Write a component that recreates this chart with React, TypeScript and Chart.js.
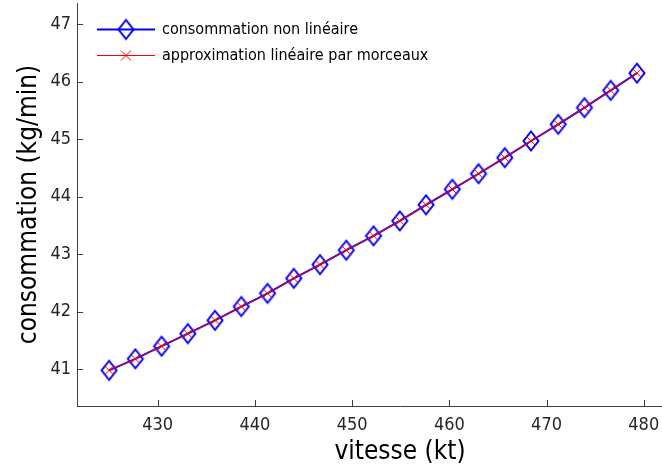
import React, { useEffect, useRef } from "react";
import { Chart, registerables } from "chart.js";

Chart.register(...registerables);

const vitesse = [425, 427.7, 430.4, 433.1, 435.9, 438.6, 441.3, 444.0, 446.7, 449.4, 452.2, 454.9, 457.6, 460.3, 463.0, 465.7, 468.4, 471.2, 473.9, 476.6, 479.3];
const consoNonLineaire = [40.98, 41.18, 41.40, 41.62, 41.85, 42.09, 42.32, 42.58, 42.82, 43.07, 43.32, 43.58, 43.86, 44.13, 44.40, 44.68, 44.97, 45.26, 45.55, 45.85, 46.15];
const consoApprox = [40.98, 41.18, 41.40, 41.62, 41.85, 42.09, 42.32, 42.58, 42.82, 43.07, 43.32, 43.58, 43.86, 44.13, 44.40, 44.68, 44.97, 45.26, 45.55, 45.85, 46.15];
const xTicks = [430, 440, 450, 460, 470, 480];
const yTicks = [41, 42, 43, 44, 45, 46, 47];
const seriesLabels = ["consommation non linéaire", "approximation linéaire par morceaux"];
const xTitle = "vitesse (kt)";
const yTitle = "consommation (kg/min)";

const FONT = '"DejaVu Sans Condensed", "DejaVu Sans", sans-serif';
const AXIS = "#404040";
const BLUE = "#0000ff";
const RED = "#ff0000";

function makeDiamond(): HTMLCanvasElement {
  const c = document.createElement("canvas");
  c.width = 20;
  c.height = 24;
  const g = c.getContext("2d")!;
  g.strokeStyle = BLUE;
  g.lineWidth = 2;
  g.beginPath();
  g.moveTo(10, 2.5);
  g.lineTo(17.5, 12);
  g.lineTo(10, 21.5);
  g.lineTo(2.5, 12);
  g.closePath();
  g.stroke();
  return c;
}

export default function App() {
  const ref = useRef<HTMLCanvasElement>(null);
  useEffect(() => {
    const diamond = makeDiamond();
    const inwardTicks = {
      id: "inwardTicks",
      afterDraw(chart: any) {
        const ctx = chart.ctx;
        const { left, bottom } = chart.chartArea;
        const xs = chart.scales.x;
        const ys = chart.scales.y;
        ctx.save();
        ctx.strokeStyle = AXIS;
        ctx.lineWidth = 1;
        ctx.beginPath();
        xTicks.forEach((v) => {
          const px = Math.round(xs.getPixelForValue(v)) + 0.5;
          ctx.moveTo(px, bottom);
          ctx.lineTo(px, bottom - 6);
        });
        yTicks.forEach((v) => {
          const py = Math.round(ys.getPixelForValue(v)) + 0.5;
          ctx.moveTo(left, py);
          ctx.lineTo(left + 6, py);
        });
        ctx.stroke();
        ctx.restore();
      },
    };
    const legendPlugin = {
      id: "customLegend",
      afterDraw(chart: any) {
        const ctx = chart.ctx;
        const { left, top } = chart.chartArea;
        const x0 = left + 20;
        const x1 = left + 78;
        const xm = (x0 + x1) / 2;
        const tx = left + 85;
        const y1 = top + 26.5;
        const y2 = top + 52.5;
        ctx.save();
        ctx.strokeStyle = BLUE;
        ctx.lineWidth = 2;
        ctx.beginPath();
        ctx.moveTo(x0, y1);
        ctx.lineTo(x1, y1);
        ctx.stroke();
        ctx.drawImage(diamond, xm - 10, y1 - 12);
        ctx.strokeStyle = RED;
        ctx.lineWidth = 1;
        ctx.beginPath();
        ctx.moveTo(x0, y2);
        ctx.lineTo(x1, y2);
        ctx.moveTo(xm - 5, y2 - 5);
        ctx.lineTo(xm + 5, y2 + 5);
        ctx.moveTo(xm - 5, y2 + 5);
        ctx.lineTo(xm + 5, y2 - 5);
        ctx.stroke();
        ctx.fillStyle = "#000";
        ctx.font = `16px ${FONT}`;
        ctx.textBaseline = "middle";
        ctx.textAlign = "left";
        ctx.fillText(chart.data.datasets[0].label, tx, y1);
        ctx.fillText(chart.data.datasets[1].label, tx, y2);
        ctx.restore();
      },
    };
    const chart = new Chart(ref.current!, {
      type: "line",
      data: {
        datasets: [
          {
            label: seriesLabels[0],
            data: vitesse.map((x, i) => ({ x, y: consoNonLineaire[i] })),
            borderColor: BLUE,
            borderWidth: 2,
            pointStyle: diamond as any,
            pointRadius: 10,
            pointHoverRadius: 10,
            backgroundColor: "rgba(0,0,0,0)",
            tension: 0,
            order: 1,
          },
          {
            label: seriesLabels[1],
            data: vitesse.map((x, i) => ({ x, y: consoApprox[i] })),
            borderColor: RED,
            borderWidth: 1,
            pointStyle: "crossRot",
            pointRadius: 7,
            pointBorderWidth: 1,
            pointBorderColor: RED,
            backgroundColor: "rgba(0,0,0,0)",
            tension: 0,
            order: 0,
          },
        ],
      },
      options: {
        responsive: false,
        maintainAspectRatio: false,
        animation: false,
        events: [],
        layout: { autoPadding: false, padding: { top: 3, left: 0, right: 0, bottom: 0 } },
        plugins: { legend: { display: false }, tooltip: { enabled: false } },
        scales: {
          x: {
            type: "linear",
            min: 421.7,
            max: 488.15,
            afterBuildTicks: (s: any) => {
              s.ticks = xTicks.map((v) => ({ value: v }));
            },
            afterFit: (s: any) => {
              s.height = 64;
              s.paddingLeft = 0;
              s.paddingRight = 0;
              s.paddingTop = 0;
              s.paddingBottom = 0;
            },
            grid: { display: false, drawTicks: false },
            border: { display: true, color: AXIS, width: 1 },
            ticks: { font: { family: FONT, size: 18 }, color: "#262626", padding: 9, maxRotation: 0 },
            title: { display: true, text: xTitle, font: { family: FONT, size: 26 }, color: "#000", padding: { top: 0, bottom: 2 } },
          },
          y: {
            type: "linear",
            min: 40.36,
            max: 47.37,
            afterBuildTicks: (s: any) => {
              s.ticks = yTicks.map((v) => ({ value: v }));
            },
            afterFit: (s: any) => {
              s.width = 77;
              s.paddingLeft = 0;
              s.paddingRight = 0;
              s.paddingTop = 0;
              s.paddingBottom = 0;
            },
            grid: { display: false, drawTicks: false },
            border: { display: true, color: AXIS, width: 1 },
            ticks: { font: { family: FONT, size: 18 }, color: "#262626", padding: 6 },
            title: { display: true, text: yTitle, font: { family: FONT, size: 26 }, color: "#000", padding: { top: 14, bottom: 0 } },
          },
        },
      },
      plugins: [inwardTicks, legendPlugin],
    });
    return () => chart.destroy();
  }, []);
  return (
    <div style={{ position: "absolute", left: 0, top: 0, width: 662, height: 470, overflow: "hidden", background: "#fff" }}>
      <div style={{ position: "relative", width: 723, height: 470 }}>
        <canvas ref={ref} width={723} height={470} style={{ display: "block", width: 723, height: 470 }} />
      </div>
    </div>
  );
}
